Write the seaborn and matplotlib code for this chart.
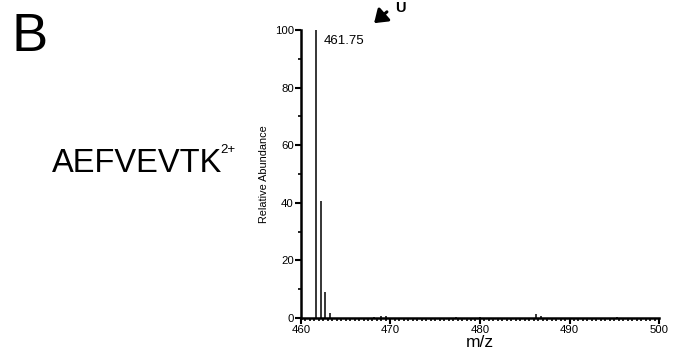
import matplotlib
matplotlib.use("Agg")
import matplotlib.pyplot as plt
from matplotlib.ticker import MultipleLocator
from matplotlib.patches import FancyArrowPatch
import seaborn as sns
import pandas as pd

# Centroided peaks of the isotope cluster and minor background ions
mz = [461.75, 462.25, 462.75, 463.25, 468.2, 469.0, 469.5, 477.3, 480.0, 486.3, 486.8, 495.3]
abundance = [100.0, 40.7, 8.9, 1.6, 0.3, 0.5, 0.8, 0.4, 0.4, 1.3, 0.6, 0.3]
x_ticks = [460, 470, 480, 490, 500]
y_ticks = [0, 20, 40, 60, 80, 100]
base_peak_label = "461.75"
peptide = "AEFVEVTK"
charge = "2+"

sns.set_theme(style="ticks")
plt.rcParams["font.family"] = ["Liberation Sans", "DejaVu Sans"]
plt.rcParams.update({"text.color": "black", "axes.labelcolor": "black",
                     "xtick.color": "black", "ytick.color": "black"})

spectrum = pd.DataFrame({"mz": mz, "abundance": abundance})

fig = plt.figure(figsize=(6.76, 3.56), dpi=100)
ax = fig.add_axes([0.445, 0.107, 0.53, 0.809])

ax.vlines(spectrum["mz"], 0, spectrum["abundance"], color="black", linewidth=1.1)

ax.set_xlim(460, 500)
ax.set_ylim(0, 100)
ax.set_xticks(x_ticks)
ax.set_yticks(y_ticks)
ax.xaxis.set_minor_locator(MultipleLocator(0.5))
ax.yaxis.set_minor_locator(MultipleLocator(10))
ax.tick_params(axis="both", which="major", direction="out", length=4, width=1.5,
               labelsize=8.2, pad=1)
ax.tick_params(axis="both", which="minor", direction="out", length=2.5, width=1.2)
for side in ("top", "right"):
    ax.spines[side].set_visible(False)
for side in ("left", "bottom"):
    ax.spines[side].set_linewidth(1.8)
    ax.spines[side].set_color("black")

ax.set_xlabel("m/z", fontsize=12.5, labelpad=0)
ax.set_ylabel("Relative Abundance", fontsize=7.8, labelpad=4)

ax.annotate(base_peak_label, xy=(mz[0], abundance[0]), xytext=(5, -4),
            textcoords="offset points", fontsize=9.5, ha="left", va="top")

# Marker for the unmodified form
fig.text(395 / 676, 1 - 0.5 / 356, "U", fontsize=10.5, fontweight="bold",
         ha="left", va="top")
fig.patches.append(FancyArrowPatch(
    (389 / 676, 1 - 10 / 356), (372 / 676, 1 - 25 / 356),
    transform=fig.transFigure, arrowstyle="-|>,head_length=5,head_width=3.5",
    color="black", linewidth=2.2, mutation_scale=1.5))

fig.text(12 / 676, 1 - 37 / 356, "B", fontsize=39, ha="left", va="center")
pep = fig.text(52 / 676, 1 - 164 / 356, peptide, fontsize=23.5, ha="left", va="center")
fig.canvas.draw()
bb = pep.get_window_extent()
fig.text((bb.x1 - 1.5) / 676, 1 - 150 / 356, charge, fontsize=9.5, ha="left", va="center")

fig.savefig("out.png", dpi=100)
